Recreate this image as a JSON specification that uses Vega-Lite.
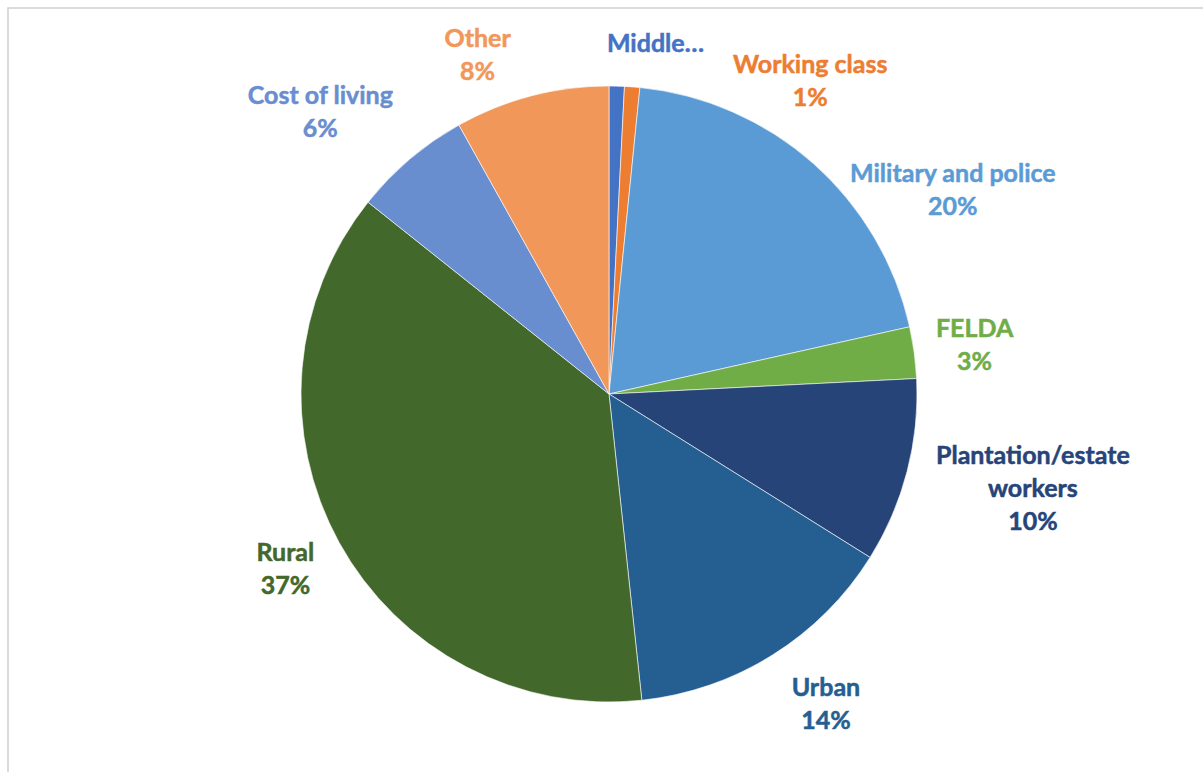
{
  "$schema": "https://vega.github.io/schema/vega-lite/v6.json",
  "width": 1202,
  "height": 772,
  "autosize": {"type": "none"},
  "padding": {"left": 8, "top": 8, "right": 0, "bottom": 0},
  "background": "white",
  "view": {"stroke": "#d0d0d0", "strokeWidth": 1.5},
  "config": {
    "view": {"stroke": "#d0d0d0", "strokeWidth": 1.5},
    "text": {"font": "Lato", "fontSize": 25, "fontWeight": "bold", "lineHeight": 33, "lineBreak": "\n", "align": "center", "baseline": "middle", "strokeWidth": 0.5}
  },
  "data": {
    "values": [
      {"cat": "Middle class", "value": 0.8},
      {"cat": "Working class", "value": 0.8},
      {"cat": "Military and police", "value": 19.9},
      {"cat": "FELDA", "value": 2.7},
      {"cat": "Plantation/estate workers", "value": 9.7},
      {"cat": "Urban", "value": 14.4},
      {"cat": "Rural", "value": 37.4},
      {"cat": "Cost of living", "value": 6.2},
      {"cat": "Other", "value": 8.1}
    ]
  },
  "transform": [
    {"window": [{"op": "row_number", "as": "idx"}]},
    {"joinaggregate": [{"op": "sum", "field": "value", "as": "total"}]},
    {"stack": "value", "groupby": [], "sort": [{"field": "idx", "order": "ascending"}], "as": ["v0", "v1"]},
    {"calculate": "(datum.v0 + datum.v1) / 2", "as": "mid"},
    {"calculate": "datum.cat == 'Middle class' ? 'Middle…' : replace(datum.cat, 'estate ', 'estate\\n') + '\\n' + format(datum.value / datum.total, '.0%')", "as": "lbl"}
  ],
  "encoding": {
    "color": {
      "field": "cat",
      "type": "nominal",
      "scale": {
        "domain": ["Middle class", "Working class", "Military and police", "FELDA", "Plantation/estate workers", "Urban", "Rural", "Cost of living", "Other"],
        "range": ["#4472C4", "#ED7D31", "#5B9BD5", "#70AD47", "#264478", "#255E91", "#43682B", "#698ED0", "#F1975A"]
      },
      "legend": null
    }
  },
  "layer": [
    {
      "mark": {"type": "arc", "outerRadius": 308, "stroke": "#ffffff", "strokeWidth": 0.6},
      "encoding": {
        "theta": {"field": "v0", "type": "quantitative", "scale": {"domain": [0, 100]}},
        "theta2": {"field": "v1"}
      }
    },
    {
      "encoding": {
        "theta": {"field": "mid", "type": "quantitative", "scale": {"domain": [0, 100]}},
        "text": {"field": "lbl"},
        "stroke": {
          "field": "cat",
          "type": "nominal",
          "scale": {
            "domain": ["Middle class", "Working class", "Military and police", "FELDA", "Plantation/estate workers", "Urban", "Rural", "Cost of living", "Other"],
            "range": ["#4472C4", "#ED7D31", "#5B9BD5", "#70AD47", "#264478", "#255E91", "#43682B", "#698ED0", "#F1975A"]
          },
          "legend": null
        }
      },
      "layer": [
        {
          "transform": [{"filter": "datum.cat == 'Middle class'"}],
          "mark": {"type": "text", "radius": 375, "dx": 37, "dy": 25}
        },
        {
          "transform": [{"filter": "datum.cat == 'Working class'"}],
          "mark": {"type": "text", "radius": 375, "dx": 173, "dy": 44.5}
        },
        {
          "transform": [{"filter": "datum.cat == 'Military and police'"}],
          "mark": {"type": "text", "radius": 375, "dx": 95, "dy": 60.5}
        },
        {
          "transform": [{"filter": "datum.cat == 'FELDA'"}],
          "mark": {"type": "text", "radius": 375, "dx": -6, "dy": -14.5}
        },
        {
          "transform": [{"filter": "datum.cat == 'Plantation/estate workers'"}],
          "mark": {"type": "text", "radius": 375, "dx": 61, "dy": -32}
        },
        {
          "transform": [{"filter": "datum.cat == 'Urban'"}],
          "mark": {"type": "text", "radius": 375, "dx": 18, "dy": -23.5}
        },
        {
          "transform": [{"filter": "datum.cat == 'Rural'"}],
          "mark": {"type": "text", "radius": 375, "dx": 5, "dy": -21.5}
        },
        {
          "transform": [{"filter": "datum.cat == 'Cost of living'"}],
          "mark": {"type": "text", "radius": 375, "dx": -46, "dy": -12.5}
        },
        {
          "transform": [{"filter": "datum.cat == 'Other'"}],
          "mark": {"type": "text", "radius": 375, "dx": -37, "dy": 7.5}
        }
      ]
    }
  ]
}
